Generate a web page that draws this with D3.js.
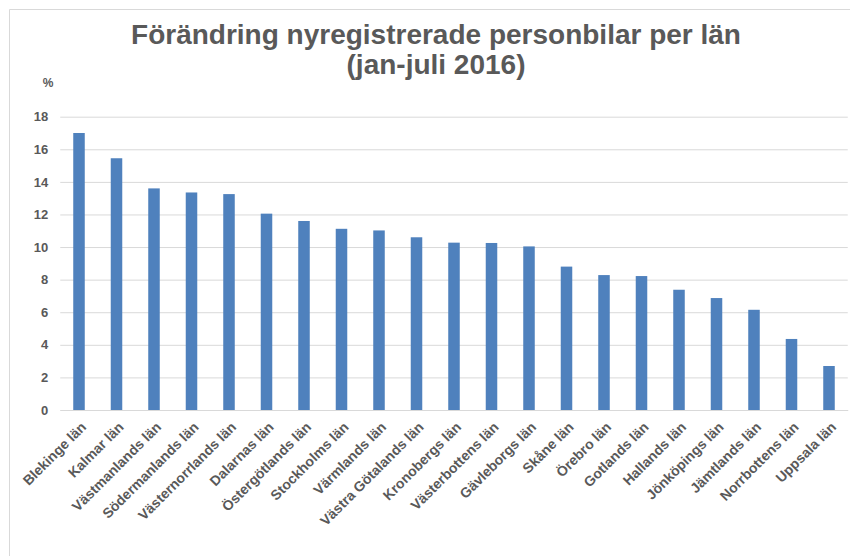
<!DOCTYPE html>
<html>
<head>
<meta charset="utf-8">
<script src="https://cdn.jsdelivr.net/npm/d3@7"></script>
<style>
  body { margin: 0; background: #fff; }
  svg { display: block; font-family: "Liberation Sans", Arial, sans-serif; }
</style>
</head>
<body>
<svg id="chart" width="850" height="556"></svg>
<script>
const titleLines = ['Förändring nyregistrerade personbilar per län', '(jan-juli 2016)'];
const unitLabel = '%';

const counties = [
  'Blekinge län', 'Kalmar län', 'Västmanlands län', 'Södermanlands län',
  'Västernorrlands län', 'Dalarnas län', 'Östergötlands län', 'Stockholms län',
  'Värmlands län', 'Västra Götalands län', 'Kronobergs län', 'Västerbottens län',
  'Gävleborgs län', 'Skåne län', 'Örebro län', 'Gotlands län', 'Hallands län',
  'Jönköpings län', 'Jämtlands län', 'Norrbottens län', 'Uppsala län'
];
const changes = [
  17.0, 15.45, 13.6, 13.35, 13.25, 12.05, 11.6, 11.12,
  11.02, 10.6, 10.27, 10.25, 10.04, 8.8, 8.28, 8.22, 7.38,
  6.87, 6.15, 4.36, 2.7
];
const yTicks = [0, 2, 4, 6, 8, 10, 12, 14, 16, 18];

const textColor = '#595959';
const gridColor = '#d9d9d9';
const barColor = '#4f81bd';

const svg = d3.select('#chart');

// chart frame
svg.append('path')
  .attr('d', 'M9.5,556 V9.5 H850')
  .attr('fill', 'none')
  .attr('stroke', gridColor);

const x = d3.scaleBand()
  .domain(counties)
  .range([60.25, 847.75])
  .paddingInner(0.693)
  .paddingOuter(0.3465);

const y = d3.scaleLinear()
  .domain([0, 18])
  .range([410, 116.7]);

// title
svg.append('g')
  .selectAll('text')
  .data(titleLines)
  .join('text')
    .attr('x', 436)
    .attr('y', (d, i) => 44 + i * 29.5)
    .attr('text-anchor', 'middle')
    .attr('font-size', 28)
    .attr('font-weight', 'bold')
    .attr('fill', textColor)
    .text(d => d);

// gridlines + y labels
const yAxis = svg.append('g')
  .attr('transform', 'translate(60.25,0)')
  .call(d3.axisLeft(y).tickValues(yTicks).tickSize(-787.5).tickPadding(12));

yAxis.select('.domain').remove();
yAxis.selectAll('.tick line').attr('stroke', gridColor);
yAxis.selectAll('.tick text')
  .attr('fill', textColor)
  .attr('font-size', 13)
  .attr('font-weight', 'bold')
  .attr('font-family', '"Liberation Sans", Arial, sans-serif');

svg.append('text')
  .attr('x', 48)
  .attr('y', 87)
  .attr('text-anchor', 'middle')
  .attr('font-size', 12)
  .attr('font-weight', 'bold')
  .attr('fill', textColor)
  .text(unitLabel);

// bars
svg.append('g')
  .selectAll('rect')
  .data(changes)
  .join('rect')
    .attr('x', (d, i) => x(counties[i]))
    .attr('width', x.bandwidth())
    .attr('y', d => y(d))
    .attr('height', d => y(0) - y(d))
    .attr('fill', barColor);

// x labels
const xAxis = svg.append('g')
  .attr('transform', `translate(0,${y(0)})`)
  .call(d3.axisBottom(x).tickSize(0).tickPadding(0));

xAxis.select('.domain').attr('stroke', gridColor);
xAxis.selectAll('.tick text')
  .attr('text-anchor', 'end')
  .attr('fill', textColor)
  .attr('font-size', 14)
  .attr('font-weight', 'bold')
  .attr('font-family', '"Liberation Sans", Arial, sans-serif')
  .attr('dy', null)
  .attr('transform', 'translate(8,18) rotate(-45)');
</script>
</body>
</html>
